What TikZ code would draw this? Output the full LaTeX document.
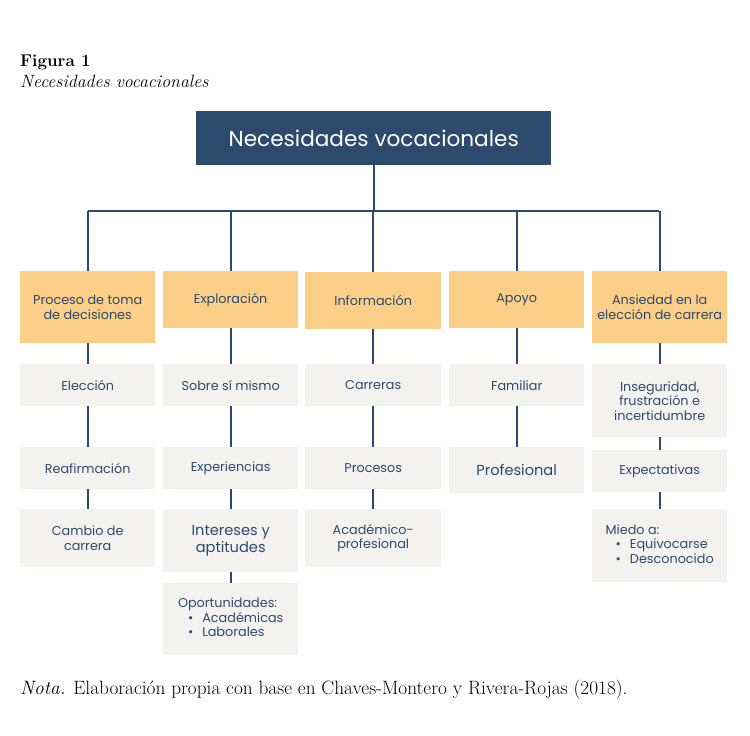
\documentclass[tikz,border=0pt]{standalone}
\usepackage{fontspec}
\newfontfamily\boxfont{Poppins}
\definecolor{navy}{HTML}{2C4A6E}
\definecolor{orng}{HTML}{FBCF87}
\definecolor{beige}{HTML}{F3F2EE}
\newcommand{\bul}{\hspace{10pt}\textbullet\hspace{9pt}}
\begin{document}
\begin{tikzpicture}[x=1pt,y=-1pt,
  boxbase/.style={anchor=north west, inner sep=0pt, align=center, text=navy, font=\boxfont\fontsize{12.8}{14.5}\selectfont},
  rootbox/.style={boxbase, fill=navy, text=white, font=\boxfont\fontsize{21.6}{26}\selectfont},
  lvlone/.style={boxbase, fill=orng},
  lvltwo/.style={boxbase, fill=beige},
  bigtxt/.style={font=\boxfont\fontsize{14.6}{17.5}\selectfont},
  conn/.style={draw=navy, line width=1.8pt},
  captxt/.style={anchor=base west, inner sep=0pt, font=\fontsize{19.3}{22}\selectfont}]
\fill[white] (0,0) rectangle (750,736);
\useasboundingbox (0,0) rectangle (750,736);
% captions
\node[captxt, font=\bfseries\fontsize{17}{20}\selectfont] (fig) at (20,66) {Figura 1};
\node[captxt, font=\itshape\fontsize{17.8}{20}\selectfont] (title) at (20,87) {Necesidades vocacionales};
\node[captxt] (nota) at (20,694) {\textit{Nota.} Elaboración propia con base en Chaves-Montero y Rivera-Rojas (2018).};
% top
\node[rootbox, minimum width=355pt, minimum height=54pt] (root) at (196,111) {Necesidades vocacionales};
% level 1
\node[lvlone, minimum width=135pt, minimum height=72pt] (p1) at (20,271) {Proceso de toma\\de decisiones};
\node[lvlone, minimum width=135pt, minimum height=57pt] (p2) at (163,271) {Exploración};
\node[lvlone, minimum width=136pt, minimum height=57pt] (p3) at (305,272) {Información};
\node[lvlone, minimum width=135pt, minimum height=57pt] (p4) at (449,271) {Apoyo};
\node[lvlone, minimum width=135pt, minimum height=72pt] (p5) at (592,271) {Ansiedad en la\\elección de carrera};
% column 1
\node[lvltwo, minimum width=135pt, minimum height=42pt] (a1) at (20,364) {Elección};
\node[lvltwo, minimum width=135pt, minimum height=42pt] (a2) at (20,447) {Reafirmación};
\node[lvltwo, minimum width=135pt, minimum height=58pt] (a3) at (20,509) {Cambio de\\carrera};
% column 2
\node[lvltwo, minimum width=135pt, minimum height=42pt] (b1) at (163,364) {Sobre sí mismo};
\node[lvltwo, minimum width=135pt, minimum height=42pt] (b2) at (163,447) {Experiencias};
\node[lvltwo, bigtxt, minimum width=135pt, minimum height=63pt] (b3) at (163,509) {Intereses y\\aptitudes};
\node[lvltwo, minimum width=135pt, minimum height=72pt] (b4) at (163,583) {\begin{tabular}{@{}l@{}}Oportunidades:\\\bul Académicas\\\bul Laborales\end{tabular}};
% column 3
\node[lvltwo, minimum width=136pt, minimum height=42pt] (c1) at (305,364) {Carreras};
\node[lvltwo, minimum width=136pt, minimum height=42pt] (c2) at (305,447) {Procesos};
\node[lvltwo, minimum width=136pt, minimum height=58pt] (c3) at (305,509) {Académico-\\profesional};
% column 4
\node[lvltwo, minimum width=135pt, minimum height=42pt] (d1) at (449,364) {Familiar};
\node[lvltwo, bigtxt, minimum width=135pt, minimum height=46pt] (d2) at (449,447) {Profesional};
% column 5
\node[lvltwo, minimum width=135pt, minimum height=73pt] (e1) at (592,364) {Inseguridad,\\frustración e\\incertidumbre};
\node[lvltwo, minimum width=135pt, minimum height=42pt] (e2) at (592,450) {Expectativas};
\node[lvltwo, minimum width=135pt, minimum height=73pt] (e3) at (592,509) {\begin{tabular}{@{}l@{}}Miedo a:\\\bul Equivocarse\\\bul Desconocido\end{tabular}};
% bus
\coordinate (busL) at (88,211);
\coordinate (busR) at (659,211);
\draw[conn] (busL) -- (busR);
\draw[conn] (root.south) -- (root.south |- busL);
\foreach \n in {p1,p2,p3,p4,p5} {\draw[conn] (\n.north |- busL) -- (\n.north);}
% column connectors
\draw[conn] (p1.south) -- (a1.north);
\draw[conn] (a1.south) -- (a2.north);
\draw[conn] (a2.south) -- (a3.north);
\draw[conn] (p2.south) -- (b1.north);
\draw[conn] (b1.south) -- (b2.north);
\draw[conn] (b2.south) -- (b3.north);
\draw[conn] (b3.south) -- (b4.north);
\draw[conn] (p3.south) -- (c1.north);
\draw[conn] (c1.south) -- (c2.north);
\draw[conn] (c2.south) -- (c3.north);
\draw[conn] (p4.south) -- (d1.north);
\draw[conn] (d1.south) -- (d2.north);
\draw[conn] (p5.south) -- (e1.north);
\draw[conn] (e1.south) -- (e2.north);
\draw[conn] (e2.south) -- (e3.north);
\end{tikzpicture}
\end{document}
